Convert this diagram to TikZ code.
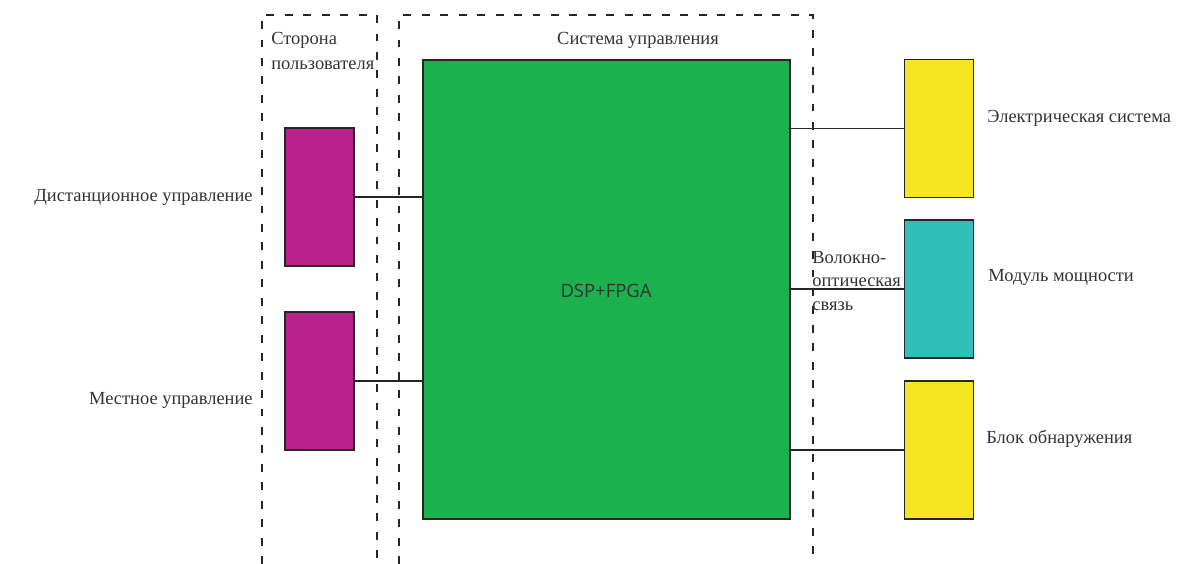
\documentclass[tikz,border=0pt]{standalone}
\usepackage{fontspec}
\setmainfont{Liberation Serif}
\newfontfamily\labelsans{Open Sans}
\usepackage{tikz}
\usetikzlibrary{positioning}

\definecolor{dspgreen}{HTML}{1BB14E}
\definecolor{usermag}{HTML}{B8228C}
\definecolor{sysyellow}{HTML}{F8E521}
\definecolor{powerteal}{HTML}{30BFB9}

\tikzset{
  block/.style={draw=black!85, line width=1.1pt, minimum width=1.38cm, minimum height=2.76cm, inner sep=0pt},
  zone/.style={dash pattern=on 4.5pt off 6pt, line width=1pt, black!85},
  link/.style={line width=0.7pt, black!85},
  lbl/.style={font=\fontsize{10.5}{12.5}\selectfont, text=black!80, inner sep=0pt}
}

\begin{document}
\begin{tikzpicture}[x=0.02cm, y=-0.02cm]
    \useasboundingbox (0,0) rectangle (1200,564);

    % Dashed zones, open at the bottom
    \draw[zone] (262,564) -- (262,15) -- (377,15) -- (377,564);
    \draw[zone] (399,564) -- (399,15) -- (813,15) -- (813,564);
    \node[lbl, anchor=west, align=left] (usertitle) at (271,51) {Сторона\\[1.5pt]пользователя};
    \node[lbl] (systitle) at (638,40) {Система управления};

    % Control unit
    \node[block, fill=dspgreen, minimum width=7.34cm, minimum height=9.18cm] (dsp) at (606.5,289.5) {};
    \node[font=\labelsans\fontsize{10.5}{12}\selectfont, text=black!80] (dsplbl) at (606,291) {DSP+FPGA};

    % User side blocks
    \foreach \name/\y in {remote/197, local/381} {
      \node[block, fill=usermag] (\name) at (319.5,\y) {};
      \draw[link] (\name.east) -- (dsp.west |- \name);
    }

    % Right hand blocks
    \foreach \name/\y/\col in {elec/128.5/sysyellow, power/289/powerteal, detect/450/sysyellow} {
      \node[block, fill=\col] (\name) at (939,\y) {};
      \draw[link] (dsp.east |- \name) -- (\name.west);
    }

    % Labels
    \node[lbl, anchor=east] (remotelbl) at (253,197) {Дистанционное управление};
    \node[lbl, anchor=east] (locallbl) at (253,400) {Местное управление};
    \node[lbl, anchor=west] (eleclbl) at (987,118) {Электрическая система};
    \node[lbl, anchor=west] (powerlbl) at (988,277) {Модуль мощности};
    \node[lbl, anchor=west] (detectlbl) at (986,439) {Блок обнаружения};
    \node[lbl, anchor=west, align=left] (fiberlbl) at (812,281) {Волокно-\\[1pt]оптическая\\[1pt]связь};
\end{tikzpicture}
\end{document}
